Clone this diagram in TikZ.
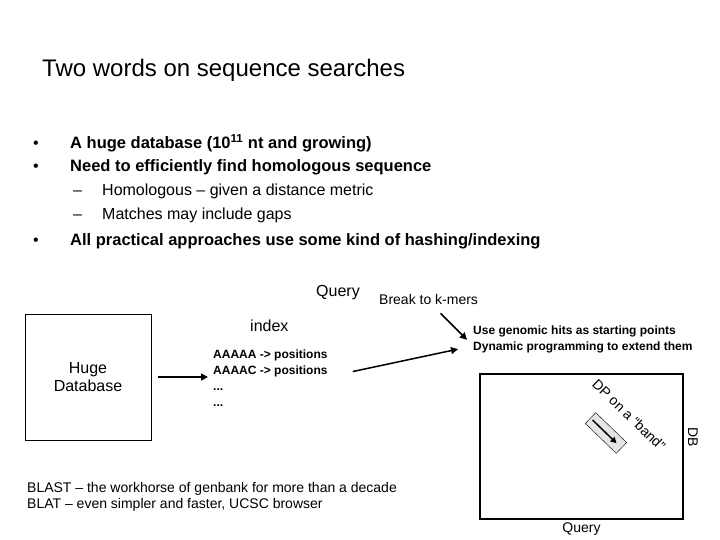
\documentclass[tikz,border=0pt]{standalone}
\usepackage{fontspec}
\setmainfont{Liberation Sans}
\usetikzlibrary{arrows.meta,positioning}

\tikzset{
  txt/.style={inner sep=0pt, anchor=base west},
  arr/.style={-{Triangle[length=7pt,width=7pt]}, line width=1.5pt},
}
\newcommand{\fs}[2]{\fontsize{#1}{#2}\selectfont}

\begin{document}
\begin{tikzpicture}[x=1pt,y=-1pt]
	\useasboundingbox (0,0) rectangle (720,540);

	% Title
	\node[txt, font=\fs{24}{28}] (title) at (42,77) {Two words on sequence searches};

	% Bullet list
	\node[txt, font=\fs{16}{18}] (dot1) at (33,149) {•};
	\node[txt, font=\bfseries\fs{16.5}{18}] (item1) at (70,149) {A huge database (10\textsuperscript{11} nt and growing)};
	\node[txt, font=\fs{16}{18}] (dot2) at (33,172) {•};
	\node[txt, font=\bfseries\fs{16.5}{18}] (item2) at (70,172) {Need to efficiently find homologous sequence};
	\node[txt, font=\fs{16}{18}] (dash1) at (73,196) {–};
	\node[txt, font=\fs{16}{18}] (sub1) at (102,196) {Homologous – given a distance metric};
	\node[txt, font=\fs{16}{18}] (dash2) at (73,220) {–};
	\node[txt, font=\fs{16}{18}] (sub2) at (102,220) {Matches may include gaps};
	\node[txt, font=\fs{16}{18}] (dot3) at (33,245) {•};
	\node[txt, font=\bfseries\fs{16.5}{18}] (item3) at (70,245) {All practical approaches use some kind of hashing/indexing};

	% Query and index labels
	\node[txt, font=\fs{16}{18}] (query) at (316,296) {Query};
	\node[txt, font=\fs{14}{16}] (kmers) at (379,304) {Break to k-mers};
	\node[txt, font=\fs{16}{18}] (indexlbl) at (250,331) {index};

	% Huge database box
	\node[draw, line width=1pt, minimum width=126pt, minimum height=126pt, inner sep=0pt, align=center, font=\fs{16}{18}] (hugedb) at (88,377) {Huge\\Database};

	% Index entries
	\node[inner sep=0pt, anchor=north west, align=left, font=\bfseries\fs{12}{16}] (idx) at (213,350)
	{AAAAA -> positions\\AAAAC -> positions\\...\\...};

	% Hits text
	\node[inner sep=0pt, anchor=north west, align=left, font=\bfseries\fs{12}{16}] (hits) at (473,326)
	{Use genomic hits as starting points\\Dynamic programming to extend them};

	% Arrows
	\draw[arr, shorten <=6pt, shorten >=5pt] (hugedb.east) -- (hugedb.east -| idx.west);
	\draw[arr] ([xshift=25pt,yshift=7pt]idx.east) -- ([xshift=-15pt,yshift=4.5pt]hits.south west);
	\draw[arr] ([xshift=12pt,yshift=-9pt]kmers.south) -- ([xshift=-6pt]hits.west);

	% DP matrix
	\node[draw, line width=1.2pt, minimum width=203pt, minimum height=145pt] (dpbox) at (581.5,446.5) {};
	\node[draw, fill=gray!20, thin, minimum width=43pt, minimum height=15pt, rotate=-44] (band) at (606,433) {};
	\draw[-{Triangle[length=6pt,width=6pt]}, line width=1.5pt, shorten <=3pt, shorten >=7pt] (band.west) -- (band.east);
	\node[rotate=-44, font=\fs{14}{16}, inner sep=0pt] (dplabel) at (629,415) {DP on a “band”};
	\node[rotate=-90, font=\fs{14}{16}, inner sep=0pt] (dblabel) at (693,437) {DB};
	\node[below=0pt of dpbox, font=\fs{14}{16}] (qlabel) {Query};

	% Bottom notes
	\node[inner sep=0pt, anchor=north west, align=left, font=\fs{14}{16}] (blast) at (27,482)
	{BLAST – the workhorse of genbank for more than a decade\\BLAT – even simpler and faster, UCSC browser};
\end{tikzpicture}
\end{document}
